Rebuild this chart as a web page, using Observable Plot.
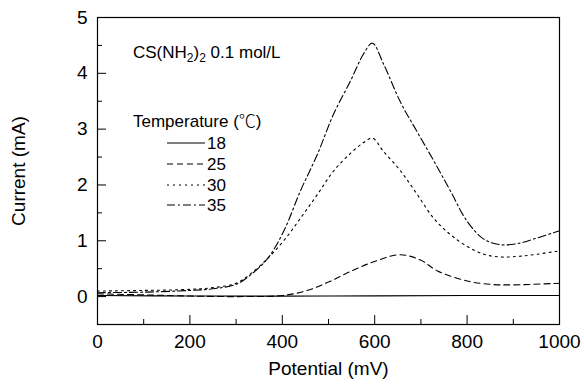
<!DOCTYPE html>
<html><head><meta charset="utf-8">
<script src="https://cdn.jsdelivr.net/npm/d3@7"></script>
<script src="https://cdn.jsdelivr.net/npm/@observablehq/plot@0.6"></script>
<style>body{margin:0;background:#fff;} svg{font-family:"Liberation Sans",Arial,sans-serif;}</style>
</head><body><div id="chart"></div>
<script>
// Data
const temperatures = ["18", "25", "30", "35"];
const x18 = [0, 200, 500, 800, 1000];
const y18 = [0.02, 0.01, 0.01, 0.02, 0.02];
const x25 = [0, 100, 200, 300, 400, 450, 500, 550, 600, 656, 700, 736, 800, 850, 900, 1000];
const y25 = [0.05, 0.03, 0.01, 0.0, 0.02, 0.1, 0.26, 0.46, 0.63, 0.75, 0.65, 0.46, 0.28, 0.22, 0.21, 0.24];
const x30 = [0, 100, 200, 250, 300, 330, 368, 403, 439, 476, 511, 548, 576, 595, 619, 656, 692, 728, 764, 800, 836, 872, 909, 944, 1000];
const y30 = [0.1, 0.11, 0.13, 0.16, 0.24, 0.4, 0.68, 1.0, 1.4, 1.83, 2.25, 2.57, 2.76, 2.84, 2.6, 2.25, 1.83, 1.4, 1.11, 0.9, 0.76, 0.71, 0.72, 0.75, 0.82];
const x35 = [0, 100, 200, 250, 300, 330, 368, 403, 439, 476, 511, 548, 576, 595, 619, 656, 692, 728, 764, 800, 836, 872, 909, 944, 1000];
const y35 = [0.07, 0.08, 0.11, 0.14, 0.22, 0.38, 0.68, 1.17, 1.89, 2.55, 3.27, 3.87, 4.35, 4.54, 4.17, 3.48, 2.95, 2.43, 1.89, 1.35, 1.03, 0.93, 0.95, 1.03, 1.18];
const xMajor = [0, 200, 400, 600, 800, 1000];
const xMinor = [100, 300, 500, 700, 900];
const yMajor = [0, 1, 2, 3, 4, 5];
const yMinor = [-0.5, 0.5, 1.5, 2.5, 3.5, 4.5];

const dashes = {"18": null, "25": "6,4", "30": "2,4", "35": "8,3,2,3"};
const series = [[x18, y18], [x25, y25], [x30, y30], [x35, y35]];
const rows = [];
series.forEach(([xs, ys], i) => xs.forEach((x, j) => rows.push({t: temperatures[i], x, y: ys[j]})));

const W = 584, H = 391, mL = 97, mR = 25, mT = 17, mB = 67;
const pw = W - mL - mR, ph = H - mT - mB;

const lineMarks = temperatures.map(t => Plot.line(rows.filter(d => d.t === t), {
  x: "x", y: "y", stroke: "black", strokeWidth: 1.1, curve: "catmull-rom",
  strokeDasharray: dashes[t]
}));

const plot = Plot.plot({
  width: W, height: H,
  marginLeft: mL, marginRight: mR, marginTop: mT, marginBottom: mB,
  style: {fontFamily: "'Liberation Sans', Arial, sans-serif", fontSize: "19px", color: "black", background: "white"},
  x: {domain: [0, 1000]},
  y: {domain: [-0.5, 5]},
  marks: [
    Plot.axisX({ticks: xMajor, tickFormat: d3.format("d"), tickSize: 0, tickPadding: 10, fontSize: 19, label: "Potential (mV)", labelAnchor: "center", labelArrow: "none", labelOffset: 50}),
    Plot.axisY({ticks: yMajor, tickFormat: d3.format("d"), tickSize: 0, tickPadding: 10, fontSize: 19, label: "Current (mA)", labelAnchor: "center", labelArrow: "none", labelOffset: 86}),
    Plot.tickX(xMajor, {x: d => d, insetTop: ph - 9, stroke: "black"}),
    Plot.tickX(xMinor, {x: d => d, insetTop: ph - 5, stroke: "black"}),
    Plot.tickY(yMajor, {y: d => d, insetRight: pw - 9, stroke: "black"}),
    Plot.tickY(yMinor, {y: d => d, insetRight: pw - 5, stroke: "black"}),
    ...lineMarks,
    Plot.frame({stroke: "black", strokeWidth: 1.2})
  ]
});
document.getElementById("chart").appendChild(plot);

// Legend / annotation inside the plot
const svg = d3.select(plot);
const g = svg.append("g")
  .attr("font-family", "'Liberation Sans', Arial, 'Noto Sans CJK SC', sans-serif")
  .attr("font-size", 17).attr("fill", "black").attr("text-anchor", "start");
const t1 = g.append("text").attr("x", 133).attr("y", 58);
t1.append("tspan").text("CS(NH");
t1.append("tspan").attr("font-size", 12).attr("dy", 4).text("2");
t1.append("tspan").attr("dy", -4).text(")");
t1.append("tspan").attr("font-size", 12).attr("dy", 4).text("2");
t1.append("tspan").attr("dy", -4).text(" 0.1 mol/L");
const t2 = g.append("text").attr("x", 133).attr("y", 127);
t2.append("tspan").text("Temperature (");
t2.append("tspan").attr("font-family", "'Noto Sans CJK SC', sans-serif").attr("font-weight", 300).text("℃");
t2.append("tspan").text(")");
const rowY = [143, 164, 185, 205];
temperatures.forEach((t, i) => {
  g.append("line").attr("x1", 167).attr("x2", 205).attr("y1", rowY[i]).attr("y2", rowY[i])
    .attr("stroke", "black").attr("stroke-width", 1.1).attr("stroke-dasharray", dashes[t]);
  g.append("text").attr("x", 207).attr("y", rowY[i] + 6).text(t);
});
</script>
</body></html>
